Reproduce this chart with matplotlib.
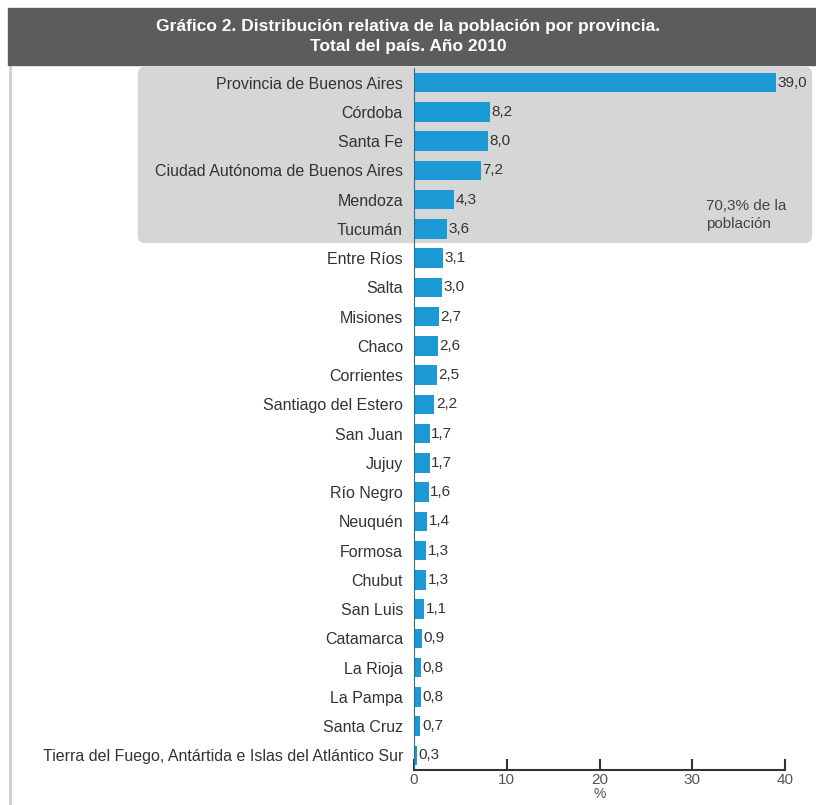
import matplotlib.pyplot as plt
from matplotlib.patches import FancyBboxPatch, Rectangle
import numpy as np

provincias = ["Provincia de Buenos Aires", "Córdoba", "Santa Fe",
              "Ciudad Autónoma de Buenos Aires", "Mendoza", "Tucumán",
              "Entre Ríos", "Salta", "Misiones", "Chaco", "Corrientes",
              "Santiago del Estero", "San Juan", "Jujuy", "Río Negro",
              "Neuquén", "Formosa", "Chubut", "San Luis", "Catamarca",
              "La Rioja", "La Pampa", "Santa Cruz",
              "Tierra del Fuego, Antártida e Islas del Atlántico Sur"]
porcentaje = [39.0, 8.2, 8.0, 7.2, 4.3, 3.6, 3.1, 3.0, 2.7, 2.6, 2.5, 2.2,
              1.7, 1.7, 1.6, 1.4, 1.3, 1.3, 1.1, 0.9, 0.8, 0.8, 0.7, 0.3]
xticks = [0, 10, 20, 30, 40]

plt.rcParams['font.family'] = ['Liberation Sans', 'DejaVu Sans']

W, H = 816, 805
fig = plt.figure(figsize=(W/100, H/100), dpi=100)

def fx(px): return px / W
def fy(py): return 1 - py / H

# title banner
fig.patches.append(Rectangle((fx(8), fy(65)), fx(816) - fx(8), fy(8) - fy(65),
                             transform=fig.transFigure, color='#5c5c5c', zorder=-2))
fig.text(fx(408), fy(26), "Gráfico 2. Distribución relativa de la población por provincia.",
         color='white', fontsize=12.5, fontweight='bold', ha='center', va='center')
fig.text(fx(408), fy(46), "Total del país. Año 2010",
         color='white', fontsize=12.5, fontweight='bold', ha='center', va='center')
# left frame line
fig.lines.append(plt.Line2D([fx(10), fx(10)], [fy(65), 0], transform=fig.transFigure,
                            color='#cfcfcf', lw=2, zorder=-2))

# gray box for top 6 provinces
fig.patches.append(FancyBboxPatch((fx(145), fy(236)), fx(805) - fx(145), fy(74) - fy(236),
                                  boxstyle="round,pad=0.008", transform=fig.transFigure,
                                  color='#d6d6d6', zorder=-2))
fig.text(fx(706), fy(215), "70,3% de la\npoblación", fontsize=11, color='#444444',
         ha='left', va='center', linespacing=1.3)

ax = fig.add_axes([fx(414), fy(770), fx(785) - fx(414), fy(68) - fy(770)])
ax.patch.set_alpha(0)
y = np.arange(len(provincias))
ax.barh(y, porcentaje, height=0.66, color='#1b9ad6')
for yi, v in zip(y, porcentaje):
    ax.text(v + 0.15, yi, f"{v:.1f}".replace('.', ','), va='center', ha='left',
            fontsize=11, color='#333333')
ax.set_ylim(len(provincias) - 0.5, -0.5)
ax.set_xlim(0, 40)
ax.set_yticks(y)
ax.set_yticklabels(provincias, fontsize=11.5, color='#333333')
ax.tick_params(axis='y', length=0, pad=8)
ax.set_xticks(xticks)
ax.set_xticklabels([str(t) for t in xticks], fontsize=11, color='#555555')
ax.tick_params(axis='x', direction='in', length=8, width=1.5, pad=2, color='#333333')
ax.set_xlabel('%', fontsize=10, color='#555555', labelpad=0)
for s in ['top', 'right']:
    ax.spines[s].set_visible(False)
ax.spines['bottom'].set_color('#333333')
ax.spines['bottom'].set_linewidth(1.5)
ax.spines['left'].set_color('#2a6f8f')

fig.savefig('out.png', dpi=100)
